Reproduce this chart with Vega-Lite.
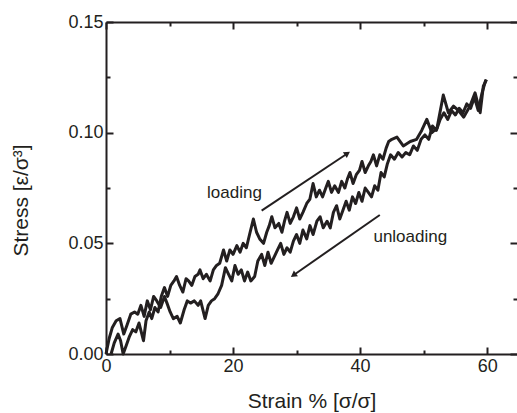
{
  "$schema": "https://vega.github.io/schema/vega-lite/v6.json",
  "width": 411,
  "height": 332,
  "autosize": {"type": "none"},
  "padding": {"left": 106, "top": 22, "right": 0, "bottom": 59},
  "config": {"view": {"stroke": null}, "font": "Liberation Sans", "background": "white"},
  "datasets": {
    "curves": [
      {"branch": "A", "strain": 0.0, "stress": 0.000},
      {"branch": "A", "strain": 0.5, "stress": 0.007},
      {"branch": "A", "strain": 1.0, "stress": 0.012},
      {"branch": "A", "strain": 1.6, "stress": 0.015},
      {"branch": "A", "strain": 2.2, "stress": 0.016},
      {"branch": "A", "strain": 2.8, "stress": 0.009},
      {"branch": "A", "strain": 3.3, "stress": 0.013},
      {"branch": "A", "strain": 3.9, "stress": 0.018},
      {"branch": "A", "strain": 4.5, "stress": 0.019},
      {"branch": "A", "strain": 5.0, "stress": 0.018},
      {"branch": "A", "strain": 5.5, "stress": 0.022},
      {"branch": "A", "strain": 6.0, "stress": 0.017},
      {"branch": "A", "strain": 6.5, "stress": 0.024},
      {"branch": "A", "strain": 7.0, "stress": 0.020},
      {"branch": "A", "strain": 7.5, "stress": 0.026},
      {"branch": "A", "strain": 8.0, "stress": 0.024},
      {"branch": "A", "strain": 8.6, "stress": 0.021},
      {"branch": "A", "strain": 9.2, "stress": 0.026},
      {"branch": "A", "strain": 9.6, "stress": 0.023},
      {"branch": "A", "strain": 10.1, "stress": 0.019},
      {"branch": "A", "strain": 10.6, "stress": 0.016},
      {"branch": "A", "strain": 11.2, "stress": 0.017},
      {"branch": "A", "strain": 11.7, "stress": 0.014},
      {"branch": "A", "strain": 12.3, "stress": 0.020},
      {"branch": "A", "strain": 12.8, "stress": 0.024},
      {"branch": "A", "strain": 13.3, "stress": 0.023},
      {"branch": "A", "strain": 13.9, "stress": 0.024},
      {"branch": "A", "strain": 14.5, "stress": 0.022},
      {"branch": "A", "strain": 14.9, "stress": 0.024},
      {"branch": "A", "strain": 15.6, "stress": 0.016},
      {"branch": "A", "strain": 16.1, "stress": 0.022},
      {"branch": "A", "strain": 16.6, "stress": 0.024},
      {"branch": "A", "strain": 17.1, "stress": 0.025},
      {"branch": "A", "strain": 17.6, "stress": 0.027},
      {"branch": "A", "strain": 18.2, "stress": 0.031},
      {"branch": "A", "strain": 18.8, "stress": 0.039},
      {"branch": "A", "strain": 19.3, "stress": 0.036},
      {"branch": "A", "strain": 19.8, "stress": 0.033},
      {"branch": "A", "strain": 20.3, "stress": 0.040},
      {"branch": "A", "strain": 20.8, "stress": 0.036},
      {"branch": "A", "strain": 21.3, "stress": 0.038},
      {"branch": "A", "strain": 21.8, "stress": 0.033},
      {"branch": "A", "strain": 22.3, "stress": 0.037},
      {"branch": "A", "strain": 22.8, "stress": 0.033},
      {"branch": "A", "strain": 23.4, "stress": 0.035},
      {"branch": "A", "strain": 23.9, "stress": 0.042},
      {"branch": "A", "strain": 24.5, "stress": 0.045},
      {"branch": "A", "strain": 25.0, "stress": 0.040},
      {"branch": "A", "strain": 25.5, "stress": 0.046},
      {"branch": "A", "strain": 26.0, "stress": 0.041},
      {"branch": "A", "strain": 26.5, "stress": 0.044},
      {"branch": "A", "strain": 27.0, "stress": 0.047},
      {"branch": "A", "strain": 27.5, "stress": 0.050},
      {"branch": "A", "strain": 28.0, "stress": 0.045},
      {"branch": "A", "strain": 28.5, "stress": 0.048},
      {"branch": "A", "strain": 29.0, "stress": 0.046},
      {"branch": "A", "strain": 29.5, "stress": 0.051},
      {"branch": "A", "strain": 30.0, "stress": 0.054},
      {"branch": "A", "strain": 30.5, "stress": 0.050},
      {"branch": "A", "strain": 31.0, "stress": 0.056},
      {"branch": "A", "strain": 31.6, "stress": 0.052},
      {"branch": "A", "strain": 32.1, "stress": 0.058},
      {"branch": "A", "strain": 32.6, "stress": 0.054},
      {"branch": "A", "strain": 33.2, "stress": 0.060},
      {"branch": "A", "strain": 33.7, "stress": 0.062},
      {"branch": "A", "strain": 34.2, "stress": 0.057},
      {"branch": "A", "strain": 34.8, "stress": 0.060},
      {"branch": "A", "strain": 35.3, "stress": 0.057},
      {"branch": "A", "strain": 35.8, "stress": 0.064},
      {"branch": "A", "strain": 36.3, "stress": 0.067},
      {"branch": "A", "strain": 36.8, "stress": 0.061},
      {"branch": "A", "strain": 37.3, "stress": 0.065},
      {"branch": "A", "strain": 37.8, "stress": 0.069},
      {"branch": "A", "strain": 38.3, "stress": 0.065},
      {"branch": "A", "strain": 38.8, "stress": 0.071},
      {"branch": "A", "strain": 39.3, "stress": 0.068},
      {"branch": "A", "strain": 39.8, "stress": 0.073},
      {"branch": "A", "strain": 40.3, "stress": 0.069},
      {"branch": "A", "strain": 40.8, "stress": 0.075},
      {"branch": "A", "strain": 41.3, "stress": 0.073},
      {"branch": "A", "strain": 41.8, "stress": 0.071},
      {"branch": "A", "strain": 42.3, "stress": 0.076},
      {"branch": "A", "strain": 42.8, "stress": 0.074},
      {"branch": "A", "strain": 43.3, "stress": 0.082},
      {"branch": "A", "strain": 43.8, "stress": 0.080},
      {"branch": "A", "strain": 44.3, "stress": 0.086},
      {"branch": "A", "strain": 44.8, "stress": 0.090},
      {"branch": "A", "strain": 45.4, "stress": 0.088},
      {"branch": "A", "strain": 46.0, "stress": 0.091},
      {"branch": "A", "strain": 46.6, "stress": 0.089},
      {"branch": "A", "strain": 47.2, "stress": 0.091},
      {"branch": "A", "strain": 47.8, "stress": 0.090},
      {"branch": "A", "strain": 48.4, "stress": 0.094},
      {"branch": "A", "strain": 49.0, "stress": 0.092},
      {"branch": "A", "strain": 49.6, "stress": 0.097},
      {"branch": "A", "strain": 50.2, "stress": 0.099},
      {"branch": "A", "strain": 50.8, "stress": 0.097},
      {"branch": "A", "strain": 51.4, "stress": 0.103},
      {"branch": "A", "strain": 52.0, "stress": 0.101},
      {"branch": "A", "strain": 52.6, "stress": 0.106},
      {"branch": "A", "strain": 53.2, "stress": 0.109},
      {"branch": "A", "strain": 53.8, "stress": 0.106},
      {"branch": "A", "strain": 54.4, "stress": 0.110},
      {"branch": "A", "strain": 55.0, "stress": 0.108},
      {"branch": "A", "strain": 55.6, "stress": 0.111},
      {"branch": "A", "strain": 56.2, "stress": 0.109},
      {"branch": "A", "strain": 56.8, "stress": 0.113},
      {"branch": "A", "strain": 57.4, "stress": 0.111},
      {"branch": "A", "strain": 58.0, "stress": 0.116},
      {"branch": "A", "strain": 58.6, "stress": 0.110},
      {"branch": "A", "strain": 59.2, "stress": 0.118},
      {"branch": "A", "strain": 59.8, "stress": 0.124},
      {"branch": "B", "strain": 0.8, "stress": 0.000},
      {"branch": "B", "strain": 1.3, "stress": 0.005},
      {"branch": "B", "strain": 1.9, "stress": 0.009},
      {"branch": "B", "strain": 2.3, "stress": 0.006},
      {"branch": "B", "strain": 2.7, "stress": 0.000},
      {"branch": "B", "strain": 3.2, "stress": 0.004},
      {"branch": "B", "strain": 3.7, "stress": 0.008},
      {"branch": "B", "strain": 4.2, "stress": 0.011},
      {"branch": "B", "strain": 4.7, "stress": 0.010},
      {"branch": "B", "strain": 5.2, "stress": 0.014},
      {"branch": "B", "strain": 5.9, "stress": 0.006},
      {"branch": "B", "strain": 6.3, "stress": 0.015},
      {"branch": "B", "strain": 6.8, "stress": 0.019},
      {"branch": "B", "strain": 7.2, "stress": 0.016},
      {"branch": "B", "strain": 7.7, "stress": 0.021},
      {"branch": "B", "strain": 8.2, "stress": 0.019},
      {"branch": "B", "strain": 8.7, "stress": 0.026},
      {"branch": "B", "strain": 9.2, "stress": 0.030},
      {"branch": "B", "strain": 9.7, "stress": 0.026},
      {"branch": "B", "strain": 10.2, "stress": 0.031},
      {"branch": "B", "strain": 10.7, "stress": 0.033},
      {"branch": "B", "strain": 11.1, "stress": 0.035},
      {"branch": "B", "strain": 11.6, "stress": 0.031},
      {"branch": "B", "strain": 12.1, "stress": 0.028},
      {"branch": "B", "strain": 12.6, "stress": 0.034},
      {"branch": "B", "strain": 13.0, "stress": 0.033},
      {"branch": "B", "strain": 13.5, "stress": 0.031},
      {"branch": "B", "strain": 14.0, "stress": 0.035},
      {"branch": "B", "strain": 14.5, "stress": 0.036},
      {"branch": "B", "strain": 14.8, "stress": 0.038},
      {"branch": "B", "strain": 15.3, "stress": 0.034},
      {"branch": "B", "strain": 15.8, "stress": 0.036},
      {"branch": "B", "strain": 16.4, "stress": 0.033},
      {"branch": "B", "strain": 16.9, "stress": 0.038},
      {"branch": "B", "strain": 17.4, "stress": 0.040},
      {"branch": "B", "strain": 17.9, "stress": 0.041},
      {"branch": "B", "strain": 18.5, "stress": 0.047},
      {"branch": "B", "strain": 19.0, "stress": 0.042},
      {"branch": "B", "strain": 19.5, "stress": 0.047},
      {"branch": "B", "strain": 20.0, "stress": 0.045},
      {"branch": "B", "strain": 20.6, "stress": 0.049},
      {"branch": "B", "strain": 21.1, "stress": 0.046},
      {"branch": "B", "strain": 21.6, "stress": 0.050},
      {"branch": "B", "strain": 22.1, "stress": 0.048},
      {"branch": "B", "strain": 22.6, "stress": 0.054},
      {"branch": "B", "strain": 23.2, "stress": 0.061},
      {"branch": "B", "strain": 23.7, "stress": 0.055},
      {"branch": "B", "strain": 24.2, "stress": 0.052},
      {"branch": "B", "strain": 24.8, "stress": 0.050},
      {"branch": "B", "strain": 25.3, "stress": 0.055},
      {"branch": "B", "strain": 25.7, "stress": 0.058},
      {"branch": "B", "strain": 26.1, "stress": 0.062},
      {"branch": "B", "strain": 26.6, "stress": 0.057},
      {"branch": "B", "strain": 27.2, "stress": 0.059},
      {"branch": "B", "strain": 27.7, "stress": 0.055},
      {"branch": "B", "strain": 28.1, "stress": 0.060},
      {"branch": "B", "strain": 28.5, "stress": 0.064},
      {"branch": "B", "strain": 29.0, "stress": 0.059},
      {"branch": "B", "strain": 29.5, "stress": 0.062},
      {"branch": "B", "strain": 30.0, "stress": 0.066},
      {"branch": "B", "strain": 30.5, "stress": 0.061},
      {"branch": "B", "strain": 31.0, "stress": 0.064},
      {"branch": "B", "strain": 31.6, "stress": 0.068},
      {"branch": "B", "strain": 32.1, "stress": 0.070},
      {"branch": "B", "strain": 32.6, "stress": 0.077},
      {"branch": "B", "strain": 33.1, "stress": 0.071},
      {"branch": "B", "strain": 33.6, "stress": 0.074},
      {"branch": "B", "strain": 34.1, "stress": 0.071},
      {"branch": "B", "strain": 34.6, "stress": 0.075},
      {"branch": "B", "strain": 35.0, "stress": 0.078},
      {"branch": "B", "strain": 35.5, "stress": 0.073},
      {"branch": "B", "strain": 36.0, "stress": 0.076},
      {"branch": "B", "strain": 36.6, "stress": 0.073},
      {"branch": "B", "strain": 37.1, "stress": 0.078},
      {"branch": "B", "strain": 37.6, "stress": 0.075},
      {"branch": "B", "strain": 38.0, "stress": 0.079},
      {"branch": "B", "strain": 38.4, "stress": 0.082},
      {"branch": "B", "strain": 38.9, "stress": 0.077},
      {"branch": "B", "strain": 39.4, "stress": 0.081},
      {"branch": "B", "strain": 39.9, "stress": 0.083},
      {"branch": "B", "strain": 40.3, "stress": 0.087},
      {"branch": "B", "strain": 40.8, "stress": 0.082},
      {"branch": "B", "strain": 41.3, "stress": 0.085},
      {"branch": "B", "strain": 41.7, "stress": 0.087},
      {"branch": "B", "strain": 42.1, "stress": 0.090},
      {"branch": "B", "strain": 42.6, "stress": 0.085},
      {"branch": "B", "strain": 43.1, "stress": 0.090},
      {"branch": "B", "strain": 43.6, "stress": 0.088},
      {"branch": "B", "strain": 44.1, "stress": 0.093},
      {"branch": "B", "strain": 44.5, "stress": 0.096},
      {"branch": "B", "strain": 45.0, "stress": 0.097},
      {"branch": "B", "strain": 45.8, "stress": 0.098},
      {"branch": "B", "strain": 46.8, "stress": 0.094},
      {"branch": "B", "strain": 47.9, "stress": 0.096},
      {"branch": "B", "strain": 48.9, "stress": 0.097},
      {"branch": "B", "strain": 49.7, "stress": 0.101},
      {"branch": "B", "strain": 50.5, "stress": 0.106},
      {"branch": "B", "strain": 51.3, "stress": 0.100},
      {"branch": "B", "strain": 52.1, "stress": 0.102},
      {"branch": "B", "strain": 53.1, "stress": 0.117},
      {"branch": "B", "strain": 53.9, "stress": 0.109},
      {"branch": "B", "strain": 54.7, "stress": 0.112},
      {"branch": "B", "strain": 55.5, "stress": 0.110},
      {"branch": "B", "strain": 56.3, "stress": 0.107},
      {"branch": "B", "strain": 57.3, "stress": 0.112},
      {"branch": "B", "strain": 58.1, "stress": 0.118},
      {"branch": "B", "strain": 58.9, "stress": 0.109},
      {"branch": "B", "strain": 59.4, "stress": 0.121},
      {"branch": "B", "strain": 59.9, "stress": 0.124}
    ]
  },
  "layer": [
    {
      "data": {"name": "curves"},
      "mark": {"type": "line", "strokeWidth": 3, "color": "#231f20", "strokeJoin": "round"},
      "encoding": {
        "x": {
          "field": "strain", "type": "quantitative",
          "scale": {"domain": [0, 64.7], "nice": false, "zero": false},
          "axis": {
            "orient": "bottom", "values": [0, 10, 20, 30, 40, 50, 60],
            "labelExpr": "datum.value % 20 === 0 ? datum.label : ''",
            "tickSize": {"condition": {"test": "datum.value % 20 === 0", "value": -7}, "value": -4},
            "tickWidth": 2, "tickColor": "#231f20",
            "domainColor": "#231f20", "domainWidth": 2,
            "labelFontSize": 18, "labelColor": "#231f20", "labelPadding": 10, "labelFlush": false,
            "grid": false,
            "title": "Strain % [σ/σ]", "titleFontSize": 21, "titleFontWeight": "normal", "titleColor": "#231f20", "titlePadding": 15
          }
        },
        "y": {
          "field": "stress", "type": "quantitative",
          "scale": {"domain": [0, 0.15], "nice": false, "zero": false},
          "axis": {
            "orient": "left", "values": [0, 0.025, 0.05, 0.075, 0.1, 0.125, 0.15],
            "format": ".2f",
            "labelExpr": "round(datum.value * 1000) % 50 === 0 ? datum.label : ''",
            "tickSize": {"condition": {"test": "round(datum.value * 1000) % 50 === 0", "value": -7}, "value": -4},
            "tickWidth": 2, "tickColor": "#231f20",
            "domainColor": "#231f20", "domainWidth": 2,
            "labelFontSize": 18, "labelColor": "#231f20", "labelPadding": 10, "labelFlush": false,
            "grid": false,
            "title": "Stress [ε/σ³]", "titleFontSize": 21, "titleFontWeight": "normal", "titleColor": "#231f20", "titlePadding": 36, "titleY": 178
          }
        },
        "detail": {"field": "branch"}
      }
    },
    {
      "data": {"values": [{"x1": 24.5, "y1": 0.0648, "x2": 38.0, "y2": 0.0906}]},
      "mark": {"type": "rule", "strokeWidth": 2, "color": "#231f20"},
      "encoding": {
        "x": {
          "field": "x1", "type": "quantitative",
          "axis": {
            "orient": "top", "values": [0, 10, 20, 30, 40, 50, 60], "labels": false, "title": null,
            "tickSize": {"condition": {"test": "datum.value % 20 === 0", "value": -7}, "value": -4},
            "tickWidth": 2, "tickColor": "#231f20", "domainColor": "#231f20", "domainWidth": 2, "grid": false
          }
        },
        "y": {
          "field": "y1", "type": "quantitative",
          "axis": {
            "orient": "right", "values": [0, 0.025, 0.05, 0.075, 0.1, 0.125, 0.15], "labels": false, "title": null,
            "tickSize": {"condition": {"test": "round(datum.value * 1000) % 50 === 0", "value": -7}, "value": -4},
            "tickWidth": 2, "tickColor": "#231f20", "domain": false, "grid": false
          }
        },
        "x2": {"field": "x2"},
        "y2": {"field": "y2"}
      }
    },
    {
      "data": {"values": [{"hx": 38.0, "hy": 0.0906}]},
      "mark": {"type": "point", "shape": "triangle-up", "filled": true, "opacity": 1, "color": "#231f20", "size": 50, "angle": 56},
      "encoding": {
        "x": {"field": "hx", "type": "quantitative", "axis": null},
        "y": {"field": "hy", "type": "quantitative", "axis": null}
      }
    },
    {
      "data": {"values": [{"x1": 43.1, "y1": 0.0628, "x2": 29.5, "y2": 0.0356}]},
      "mark": {"type": "rule", "strokeWidth": 2, "color": "#231f20"},
      "encoding": {
        "x": {"field": "x1", "type": "quantitative", "axis": null},
        "y": {"field": "y1", "type": "quantitative", "axis": null},
        "x2": {"field": "x2"},
        "y2": {"field": "y2"}
      }
    },
    {
      "data": {"values": [{"hx": 29.5, "hy": 0.0356}]},
      "mark": {"type": "point", "shape": "triangle-up", "filled": true, "opacity": 1, "color": "#231f20", "size": 50, "angle": 235},
      "encoding": {
        "x": {"field": "hx", "type": "quantitative", "axis": null},
        "y": {"field": "hy", "type": "quantitative", "axis": null}
      }
    },
    {
      "data": {"values": [{"tx": 15.9, "ty": 0.0703, "label": "loading"}, {"tx": 42.1, "ty": 0.0507, "label": "unloading"}]},
      "mark": {"type": "text", "align": "left", "baseline": "alphabetic", "fontSize": 17, "color": "#231f20"},
      "encoding": {
        "x": {"field": "tx", "type": "quantitative", "axis": null},
        "y": {"field": "ty", "type": "quantitative", "axis": null},
        "text": {"field": "label"}
      }
    }
  ],
  "resolve": {"axis": {"x": "independent", "y": "independent"}}
}
